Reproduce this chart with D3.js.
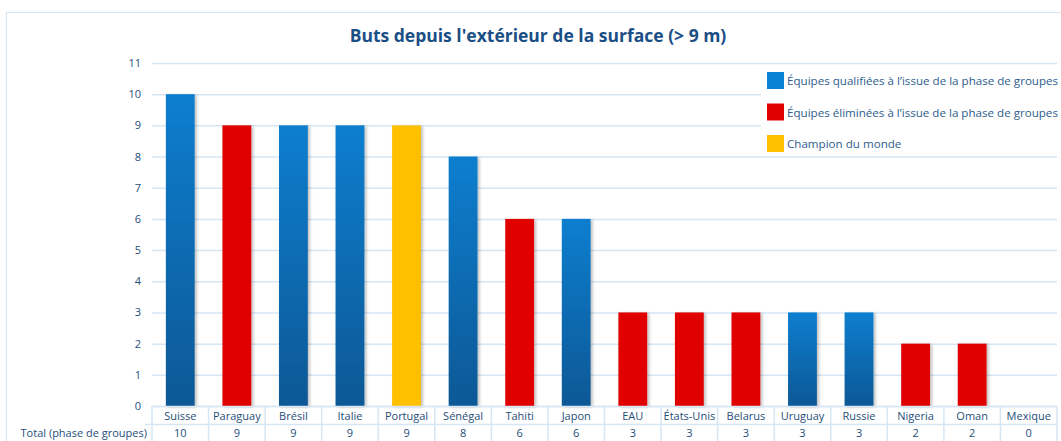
<!DOCTYPE html>
<html>
<head>
<meta charset="utf-8">
<script src="https://cdn.jsdelivr.net/npm/d3@7"></script>
<style>
  body { margin: 0; background: #fff; }
  text { font-family: "Open Sans", "Noto Sans", sans-serif; }
</style>
</head>
<body>
<div id="chart"></div>
<script>
var width = 1061;
var height = 441;

// données
var countries = ["Suisse", "Paraguay", "Brésil", "Italie", "Portugal", "Sénégal", "Tahiti", "Japon",
                 "EAU", "États-Unis", "Belarus", "Uruguay", "Russie", "Nigeria", "Oman", "Mexique"];
var goals = [10, 9, 9, 9, 9, 8, 6, 6, 3, 3, 3, 3, 3, 2, 2, 0];
var teamStatus = ["q", "e", "q", "q", "c", "q", "e", "q", "e", "e", "e", "q", "q", "e", "e", "e"];
var yTicks = [0, 1, 2, 3, 4, 5, 6, 7, 8, 9, 10, 11];
var legendKeys = ["q", "e", "c"];
var legendLabels = ["Équipes qualifiées à l’issue de la phase de groupes",
                    "Équipes éliminées à l’issue de la phase de groupes",
                    "Champion du monde"];
var title = "Buts depuis l'extérieur de la surface (> 9 m)";
var rowLabel = "Total (phase de groupes)";

var margin = {left: 152, right: 4, top: 63, bottom: 35};
var plotRight = width - margin.right;
var y0 = 406;

var lineCol = "#d6e6f4";
var textCol = "#1f4e79";

var svg = d3.select("#chart").append("svg")
    .attr("width", width)
    .attr("height", height);

var defs = svg.append("defs");
var grad = defs.append("linearGradient")
    .attr("id", "gBlue")
    .attr("x1", 0).attr("y1", 0).attr("x2", 0).attr("y2", 1);
grad.append("stop").attr("offset", "0%").attr("stop-color", "#0a7ecf");
grad.append("stop").attr("offset", "100%").attr("stop-color", "#0b5895");

var shadow = defs.append("filter").attr("id", "shadow")
    .attr("x", "-20%").attr("y", "-5%").attr("width", "150%").attr("height", "115%");
shadow.append("feDropShadow")
    .attr("dx", 2).attr("dy", 1).attr("stdDeviation", 1.5)
    .attr("flood-color", "#000").attr("flood-opacity", 0.25);

var colors = {q: "url(#gBlue)", e: "#e00000", c: "#ffc000"};
var legendColors = {q: "#0a82d4", e: "#e00000", c: "#ffc000"};

// cadre
svg.append("rect")
    .attr("x", 6.5).attr("y", 12.5)
    .attr("width", width + 10).attr("height", height)
    .attr("fill", "none")
    .attr("stroke", lineCol);

// titre
svg.append("text")
    .attr("x", 538)
    .attr("y", 42)
    .attr("text-anchor", "middle")
    .attr("font-size", 17.5)
    .attr("font-weight", "bold")
    .attr("fill", "#1a4f86")
    .text(title);

var x = d3.scaleBand()
    .domain(countries)
    .range([margin.left, plotRight])
    .paddingInner(0.49)
    .paddingOuter(0.245);

var xCell = d3.scaleBand()
    .domain(countries)
    .range([margin.left, plotRight]);

var y = d3.scaleLinear()
    .domain([0, 11])
    .range([y0, margin.top]);

// grille
var yAxis = d3.axisLeft(y)
    .tickValues(yTicks)
    .tickSize(-(plotRight - margin.left))
    .tickPadding(11)
    .tickFormat(d3.format("d"));

var gy = svg.append("g")
    .attr("transform", "translate(" + margin.left + ",0)")
    .call(yAxis);
gy.select(".domain").remove();
gy.selectAll(".tick line")
    .attr("stroke", lineCol)
    .attr("stroke-width", 1.5);
gy.selectAll(".tick text")
    .attr("font-size", 11)
    .attr("fill", textCol);

// barres
svg.append("g").selectAll("rect")
    .data(countries)
    .enter().append("rect")
    .attr("x", function (d) { return x(d); })
    .attr("y", function (d, i) { return y(goals[i]); })
    .attr("width", x.bandwidth())
    .attr("height", function (d, i) { return y0 - y(goals[i]); })
    .attr("fill", function (d, i) { return colors[teamStatus[i]]; })
    .attr("filter", "url(#shadow)");

// légende
var lg = svg.append("g");
lg.append("rect")
    .attr("x", 761).attr("y", 66)
    .attr("width", 300).attr("height", 88)
    .attr("fill", "#fff");
var items = lg.selectAll("g.item")
    .data(legendKeys)
    .enter().append("g")
    .attr("class", "item")
    .attr("transform", function (d, i) { return "translate(767," + (72 + i * 31.5) + ")"; });
items.append("rect")
    .attr("width", 17).attr("height", 17)
    .attr("fill", function (d) { return legendColors[d]; });
items.append("text")
    .attr("x", 20)
    .attr("y", 13)
    .attr("font-size", 11.6)
    .attr("fill", "#2e5d8e")
    .text(function (d, i) { return legendLabels[i]; });

// tableau de données
var tbl = svg.append("g");
var rowH = 18;
tbl.append("line")
    .attr("x1", margin.left).attr("x2", plotRight)
    .attr("y1", y0 + 0.5).attr("y2", y0 + 0.5)
    .attr("stroke", lineCol).attr("stroke-width", 1.5);
tbl.append("line")
    .attr("x1", margin.left - 7).attr("x2", plotRight)
    .attr("y1", y0 + rowH + 0.5).attr("y2", y0 + rowH + 0.5)
    .attr("stroke", lineCol).attr("stroke-width", 1.5);
tbl.selectAll("line.v")
    .data(countries.concat(["end"]))
    .enter().append("line")
    .attr("class", "v")
    .attr("x1", function (d, i) { return margin.left + i * xCell.bandwidth(); })
    .attr("x2", function (d, i) { return margin.left + i * xCell.bandwidth(); })
    .attr("y1", y0).attr("y2", height)
    .attr("stroke", lineCol).attr("stroke-width", 1.5);
tbl.selectAll("text.cat")
    .data(countries)
    .enter().append("text")
    .attr("class", "cat")
    .attr("x", function (d) { return xCell(d) + xCell.bandwidth() / 2; })
    .attr("y", y0 + 13.5)
    .attr("text-anchor", "middle")
    .attr("font-size", 11)
    .attr("fill", textCol)
    .text(function (d) { return d; });
tbl.selectAll("text.val")
    .data(countries)
    .enter().append("text")
    .attr("class", "val")
    .attr("x", function (d) { return xCell(d) + xCell.bandwidth() / 2; })
    .attr("y", y0 + rowH + 13)
    .attr("text-anchor", "middle")
    .attr("font-size", 11)
    .attr("fill", textCol)
    .text(function (d, i) { return goals[i]; });
tbl.append("text")
    .attr("x", margin.left - 5)
    .attr("y", y0 + rowH + 13)
    .attr("text-anchor", "end")
    .attr("font-size", 11)
    .attr("fill", textCol)
    .text(rowLabel);
</script>
</body>
</html>
